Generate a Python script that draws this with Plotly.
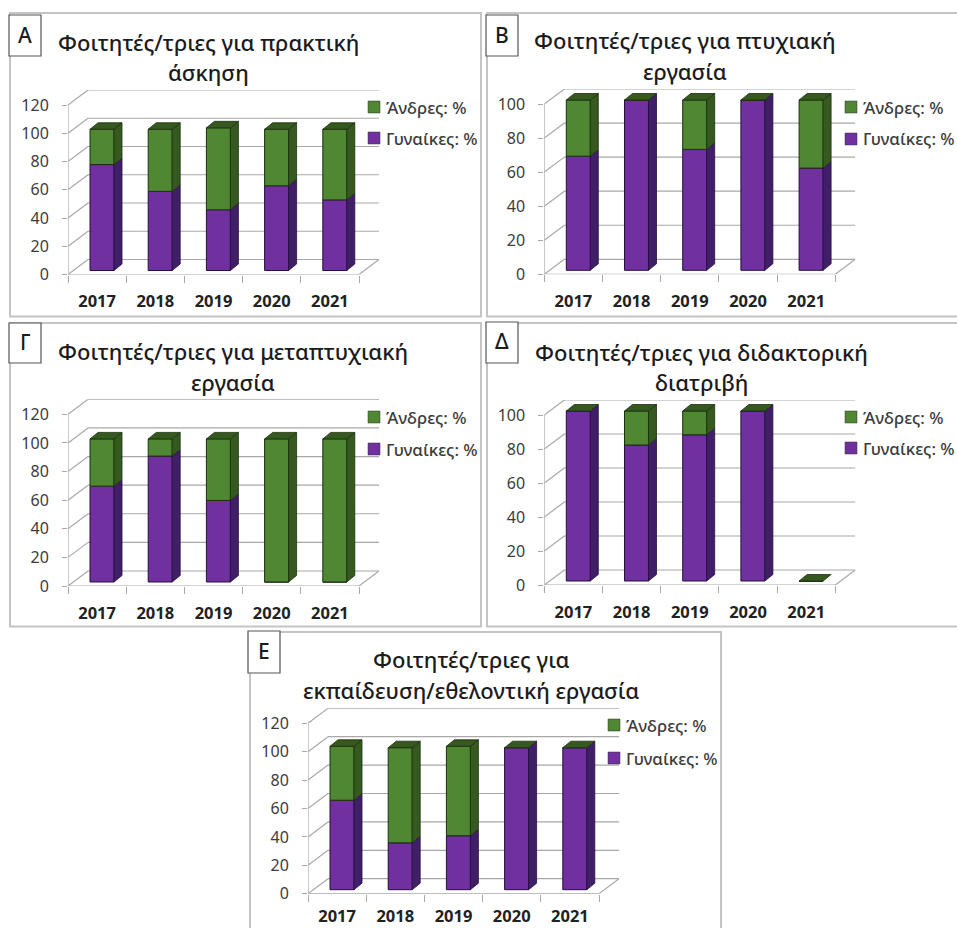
import plotly.graph_objects as go

# Share of women and men per year, by type of student placement
years = ["2017", "2018", "2019", "2020", "2021"]

women_a = [75, 56, 43, 60, 50]
men_a = [25, 44, 58, 40, 50]
women_b = [67, 100, 71, 100, 60]
men_b = [33, 0, 29, 0, 40]
women_c = [67, 88, 57, 0, 0]
men_c = [33, 12, 43, 100, 100]
women_d = [100, 80, 86, 100, 0]
men_d = [0, 20, 14, 0, 0]
women_e = [63, 33, 38, 100, 100]
men_e = [38, 67, 63, 0, 0]

men_label = "Άνδρες: %"
women_label = "Γυναίκες: %"

title_a = ["Φοιτητές/τριες για πρακτική", "άσκηση"]
title_b = ["Φοιτητές/τριες για πτυχιακή", "εργασία"]
title_c = ["Φοιτητές/τριες για μεταπτυχιακή", "εργασία"]
title_d = ["Φοιτητές/τριες για διδακτορική", "διατριβή"]
title_e = ["Φοιτητές/τριες για", "εκπαίδευση/εθελοντική εργασία"]

W, H = 957, 928
FONT = "Noto Sans"
PURPLE, PURPLE_SIDE, PURPLE_EDGE = "#7030a0", "#401f68", "#24103c"
GREEN, GREEN_SIDE, GREEN_EDGE = "#4f8733", "#36591f", "#1c3010"
GRID = "#a8a8a8"
TEXT = "#3c3c3c"

CAT_W = 58.2       # pixels per category along the front plane
WALL_DX, WALL_DY = 20, 15   # depth of the back wall
BAR_W = 24
BAR_DX, BAR_DY = 8, 6.5     # depth of each bar
BAR_SHIFT, BAR_LIFT = 4.9, 4

panels = [
    dict(tag="Α", women=women_a, men=men_a, title=title_a, ymax=120, open="", gap=15,
         box=(10, 13, 481, 316.5), tagbox=(9, 15, 41, 56), x0=68, y0=274.5, ytop=105,
         tx=208, ty=(42, 72), lx=368, ly=(107, 138)),
    dict(tag="Β", women=women_b, men=men_b, title=title_b, ymax=100, open="right", gap=15,
         box=(487, 13, 957, 316.5), tagbox=(486, 15, 518, 56), x0=544.3, y0=274.3, ytop=104,
         tx=684.7, ty=(40, 71), lx=845, ly=(107, 139)),
    dict(tag="Γ", women=women_c, men=men_c, title=title_c, ymax=120, open="", gap=15,
         box=(10, 323, 481, 626.5), tagbox=(9, 323, 41, 363), x0=68, y0=586, ytop=414.3,
         tx=233, ty=(351, 382), lx=368, ly=(417, 449)),
    dict(tag="Δ", women=women_d, men=men_d, title=title_d, ymax=100, open="right", gap=15,
         box=(487, 323, 957, 626.5), tagbox=(486, 322, 518, 363), x0=544.3, y0=585, ytop=415,
         tx=701, ty=(352, 382), lx=845, ly=(417, 448)),
    dict(tag="Ε", women=women_e, men=men_e, title=title_e, ymax=120, open="bottom", gap=11,
         box=(250, 632, 721, 928), tagbox=(248, 631, 280, 673), x0=308, y0=893.7, ytop=723.3,
         tx=471, ty=(659, 690), lx=608, ly=(725, 758)),
]


def px(x):
    return x / W


def py(y):
    return 1 - y / H


fig = go.Figure()
shapes, annotations = [], []


def polygons(faces):
    xs, ys = [], []
    for face in faces:
        xs += [p[0] for p in face] + [face[0][0], None]
        ys += [p[1] for p in face] + [face[0][1], None]
    return xs, ys


def frame_path(box, open_side):
    # Outline of a panel; the side at the page edge stays open
    l, t, r, b = px(box[0]), py(box[1]), px(box[2]), py(box[3])
    if open_side == "right":
        return f"M{r},{b}L{l},{b}L{l},{t}L{r},{t}"
    if open_side == "bottom":
        return f"M{l},{b}L{l},{t}L{r},{t}L{r},{b}"
    return f"M{l},{b}L{l},{t}L{r},{t}L{r},{b}Z"


for i, p in enumerate(panels, start=1):
    suffix = "" if i == 1 else str(i)
    xref, yref = f"x{suffix}", f"y{suffix}"
    uy = (p["y0"] - p["ytop"]) / p["ymax"]
    wall_dx, wall_dy = WALL_DX / CAT_W, WALL_DY / uy
    bar_half = BAR_W / CAT_W / 2
    bar_dx, bar_dy = BAR_DX / CAT_W, BAR_DY / uy
    shift, lift = BAR_SHIFT / CAT_W, BAR_LIFT / uy
    left, right = -0.5, 4.5
    centres = [k + shift for k in range(len(years))]

    # Panel frame
    shapes.append(dict(type="path", xref="paper", yref="paper", layer="below",
                       path=frame_path(p["box"], p["open"]),
                       line=dict(color="#c4c4c4", width=2)))

    # Receding walls: gridlines, floor and front axis lines
    grid_values = list(range(0, p["ymax"] + 1, 20))
    for v in grid_values:
        shapes.append(dict(type="line", xref=xref, yref=yref, layer="below",
                           x0=left, y0=v, x1=left + wall_dx, y1=v + wall_dy,
                           line=dict(color=GRID, width=1.2)))
        shapes.append(dict(type="line", xref=xref, yref=yref, layer="below",
                           x0=left + wall_dx, y0=v + wall_dy, x1=right + wall_dx, y1=v + wall_dy,
                           line=dict(color=GRID, width=1.2)))
    for seg in [(left, 0, right, 0), (right, 0, right + wall_dx, wall_dy), (left, 0, left, p["ymax"])]:
        shapes.append(dict(type="line", xref=xref, yref=yref, layer="below",
                           x0=seg[0], y0=seg[1], x1=seg[2], y1=seg[3],
                           line=dict(color=GRID, width=1.2)))

    # Front faces of the stacked bars
    women, men = p["women"], p["men"]
    fig.add_trace(go.Bar(x=centres, y=women, base=[lift] * 5, width=BAR_W / CAT_W, name=women_label,
                         marker=dict(color=PURPLE, line=dict(color=PURPLE_EDGE, width=1)),
                         xaxis=xref, yaxis=yref, showlegend=False))
    fig.add_trace(go.Bar(x=centres, y=men, base=[lift + w for w in women], width=BAR_W / CAT_W,
                         name=men_label,
                         marker=dict(color=GREEN, line=dict(color=GREEN_EDGE, width=1)),
                         xaxis=xref, yaxis=yref, showlegend=False))

    # Side and top faces follow the same values
    side_w, side_m, top = [], [], []
    for c, w, m in zip(centres, women, men):
        xr = c + bar_half
        y1 = lift + w
        y2 = y1 + m
        if w > 0:
            side_w.append([(xr, lift), (xr + bar_dx, lift + bar_dy),
                           (xr + bar_dx, y1 + bar_dy), (xr, y1)])
        if m > 0:
            side_m.append([(xr, y1), (xr + bar_dx, y1 + bar_dy),
                           (xr + bar_dx, y2 + bar_dy), (xr, y2)])
        top.append([(c - bar_half, y2), (xr, y2), (xr + bar_dx, y2 + bar_dy),
                    (c - bar_half + bar_dx, y2 + bar_dy)])
    for faces, fill, edge in [(side_w, PURPLE_SIDE, PURPLE_EDGE),
                              (side_m, GREEN_SIDE, GREEN_EDGE),
                              (top, GREEN_SIDE, GREEN_EDGE)]:
        if not faces:
            continue
        xs, ys = polygons(faces)
        fig.add_trace(go.Scatter(x=xs, y=ys, mode="lines", fill="toself", fillcolor=fill,
                                 line=dict(color=edge, width=0.8), hoverinfo="skip",
                                 xaxis=xref, yaxis=yref, showlegend=False))

    # Axes span the front plane plus the wall depth
    fig.update_layout({
        f"xaxis{suffix}": dict(
            domain=[px(p["x0"]), px(p["x0"] + 5 * CAT_W + WALL_DX)],
            range=[left, right + wall_dx], anchor=yref, showgrid=False, zeroline=False,
            automargin=False, tickmode="array", tickvals=list(range(5)), ticktext=years, ticks="",
            ticklabelstandoff=p["gap"], fixedrange=True,
            tickfont=dict(family=FONT, size=16.5, color="#222222", weight="bold"),
            minor=dict(tickmode="array", tickvals=[k - 0.5 for k in range(6)], ticks="outside",
                       ticklen=7, tickcolor=GRID, tickwidth=1.2, showgrid=False),
        ),
        f"yaxis{suffix}": dict(
            domain=[py(p["y0"]), py(p["ytop"] - WALL_DY)],
            range=[0, p["ymax"] + wall_dy], anchor=xref, showgrid=False, zeroline=False,
            automargin=False, tickmode="array", tickvals=grid_values, ticks="outside", ticklen=5,
            tickcolor=GRID, tickwidth=1.2, ticklabelstandoff=10, fixedrange=True,
            tickfont=dict(family=FONT, size=16, color=TEXT),
        ),
    })

    # Two-line title
    for line, y in zip(p["title"], p["ty"]):
        annotations.append(dict(text=line, xref="paper", yref="paper", x=px(p["tx"]), y=py(y),
                                xanchor="center", yanchor="middle", showarrow=False,
                                font=dict(family=FONT, size=22, color="#1c1c1c", weight=500)))

    # Legend: men above women
    for label, color, y in [(men_label, GREEN, p["ly"][0]), (women_label, PURPLE, p["ly"][1])]:
        shapes.append(dict(type="rect", xref="paper", yref="paper",
                           x0=px(p["lx"]), x1=px(p["lx"] + 12),
                           y0=py(y + 6), y1=py(y - 6), fillcolor=color,
                           line=dict(color="#333333", width=0.5)))
        annotations.append(dict(text=label, xref="paper", yref="paper", x=px(p["lx"] + 16), y=py(y),
                                xanchor="left", yanchor="middle", showarrow=False,
                                font=dict(family=FONT, size=16.8, color=TEXT, weight=500)))

    # Corner tag
    l, t, r, b = p["tagbox"]
    shapes.append(dict(type="rect", xref="paper", yref="paper",
                       x0=px(l), x1=px(r), y0=py(b), y1=py(t), fillcolor="white",
                       line=dict(color="#555555", width=1.2)))
    annotations.append(dict(text=p["tag"], xref="paper", yref="paper", x=px((l + r) / 2),
                            y=py((t + b) / 2 - 1), xanchor="center", yanchor="middle", showarrow=False,
                            font=dict(family=FONT, size=21, color="#1c1c1c", weight=500)))

fig.update_layout(width=W, height=H, autosize=False, margin=dict(l=0, r=0, t=0, b=0, pad=0),
                  barmode="overlay", plot_bgcolor="rgba(0,0,0,0)", paper_bgcolor="white",
                  showlegend=False, shapes=shapes, annotations=annotations)

fig.write_html("out.html", config=dict(displayModeBar=False))
